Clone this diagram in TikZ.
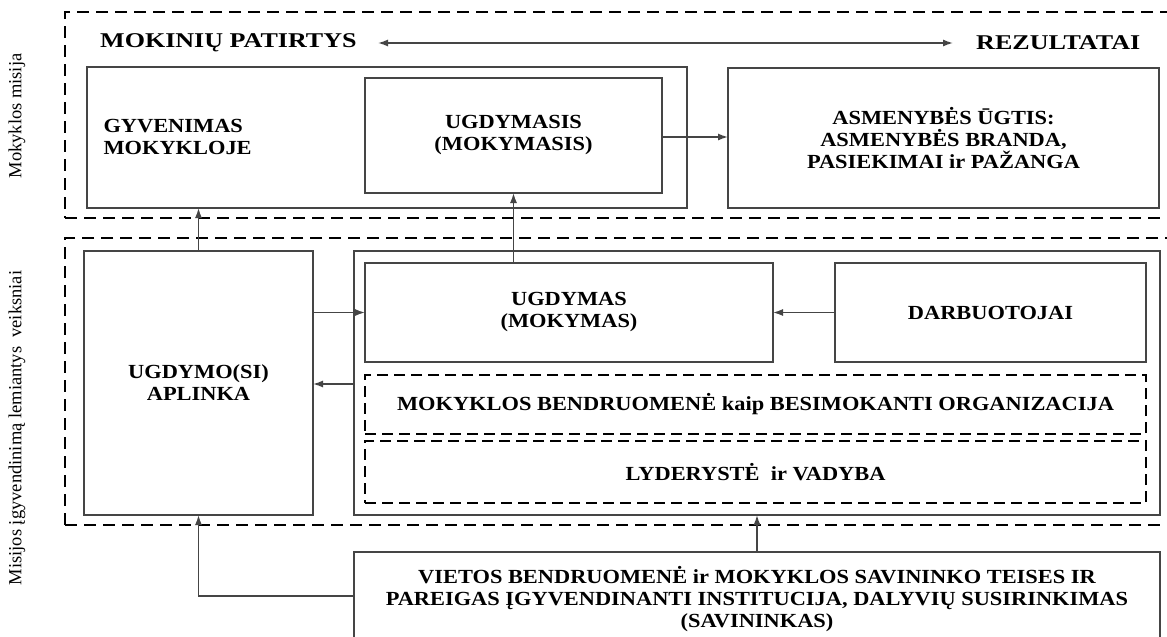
\documentclass[tikz,border=0pt]{standalone}
\usepackage{fontspec}
\setmainfont{Liberation Serif}
\newfontfamily\boxfont[FakeStretch=1.12]{Liberation Serif}
\newfontfamily\headfont[FakeStretch=1.24]{Liberation Serif}
\usetikzlibrary{arrows.meta}
\definecolor{boxline}{HTML}{454545}
\tikzset{
  x=1pt, y=-1pt,
  solidbox/.style={draw=boxline, line width=1.5pt, inner sep=0pt, outer sep=0pt, rectangle},
  dashbox/.style={draw=black, line width=2.2pt, dash pattern=on 12pt off 7pt, inner sep=0pt, outer sep=0pt, rectangle},
  innerdash/.style={draw=black, line width=2pt, dash pattern=on 11pt off 6pt, inner sep=0pt, outer sep=0pt, rectangle},
  btxt/.style={font=\boxfont\fontsize{20}{22}\selectfont\bfseries, align=center, text=black},
  htxt/.style={font=\headfont\fontsize{21}{23}\selectfont\bfseries, text=black, inner sep=0pt},
  sidetxt/.style={font=\fontsize{18.5}{20}\selectfont, rotate=90, text=black, inner sep=0pt},
  conn/.style={draw=boxline, line width=1.4pt},
  arr/.style={conn, -{Latex[length=10pt,width=7pt]}},
  darr/.style={conn, {Latex[length=10pt,width=7pt]}-{Latex[length=10pt,width=7pt]}}
}
\begin{document}
\begin{tikzpicture}
\useasboundingbox[fill=white] (0,0) rectangle (1167,637);

% side labels
\node[sidetxt] (lab1) at (17,116) {Mokyklos misija};
\node[sidetxt] (lab2) at (17,428) {Misijos įgyvendinimą lemiantys\ \ veiksniai};

% dashed regions
\node[dashbox, minimum width=1125pt, minimum height=206pt] (reg1) at (627.5,115) {};
\node[dashbox, minimum width=1125pt, minimum height=287pt] (reg2) at (627.5,381.5) {};

% header
\node[htxt, anchor=west] (hl) at (100,43) {MOKINIŲ PATIRTYS};
\node[htxt, anchor=west] (hr) at (976,43) {REZULTATAI};
\coordinate (da) at (378,43);
\coordinate (db) at (953,43);
\draw[darr] (da) -- (db);

% top boxes
\node[solidbox, minimum width=600pt, minimum height=141pt] (gyv) at (387,137.5) {};
\node[btxt, align=left, anchor=west] (gyvt) at (100,137) {GYVENIMAS\\MOKYKLOJE};
\node[solidbox, btxt, minimum width=297pt, minimum height=115pt] (ugdsis) at (513.5,135.5) {UGDYMASIS\\(MOKYMASIS)};
\node[solidbox, btxt, minimum width=431pt, minimum height=140pt] (asm) at (943.5,138) {ASMENYBĖS ŪGTIS:\\ASMENYBĖS BRANDA,\\PASIEKIMAI ir PAŽANGA};

% lower boxes
\node[solidbox, btxt, minimum width=229pt, minimum height=264pt] (apl) at (198.5,383) {UGDYMO(SI)\\APLINKA};
\node[solidbox, minimum width=806pt, minimum height=264pt] (big) at (757,383) {};
\node[solidbox, btxt, minimum width=408pt, minimum height=99pt] (ugd) at (569,312.5) {UGDYMAS\\(MOKYMAS)};
\node[solidbox, btxt, minimum width=311pt, minimum height=99pt] (darb) at (990.5,312.5) {DARBUOTOJAI};
\node[innerdash, btxt, minimum width=781pt, minimum height=59pt] (mbo) at (755.5,404.5) {MOKYKLOS BENDRUOMENĖ kaip BESIMOKANTI ORGANIZACIJA};
\node[innerdash, btxt, minimum width=781pt, minimum height=62pt] (lyd) at (755.5,472) {LYDERYSTĖ\ \ ir VADYBA};

% owner box
\node[solidbox, minimum width=806pt, minimum height=120pt] (own) at (757,612) {};
\node[btxt] (ownt) at (757,599) {VIETOS BENDRUOMENĖ ir MOKYKLOS SAVININKO TEISES IR\\PAREIGAS ĮGYVENDINANTI INSTITUCIJA, DALYVIŲ SUSIRINKIMAS\\(SAVININKAS)};

% connectors
\draw[arr] (ugdsis.east |- 0,137) -- (asm.west |- 0,137);
\draw[arr] (apl.north) -- (apl.north |- gyv.south);
\draw[arr] (ugdsis.south |- ugd.north) -- (ugdsis.south);
\draw[arr] (darb.west) -- (ugd.west -| ugd.east);
\draw[arr] (apl.east |- ugd.west) -- (ugd.west);
\draw[arr] (big.west |- 0,384) -- (apl.east |- 0,384);
\draw[arr] (own.north) -- (big.south);
\coordinate (ownl) at (354,596);
\draw[arr] (ownl) -| (apl.south);
\end{tikzpicture}
\end{document}
